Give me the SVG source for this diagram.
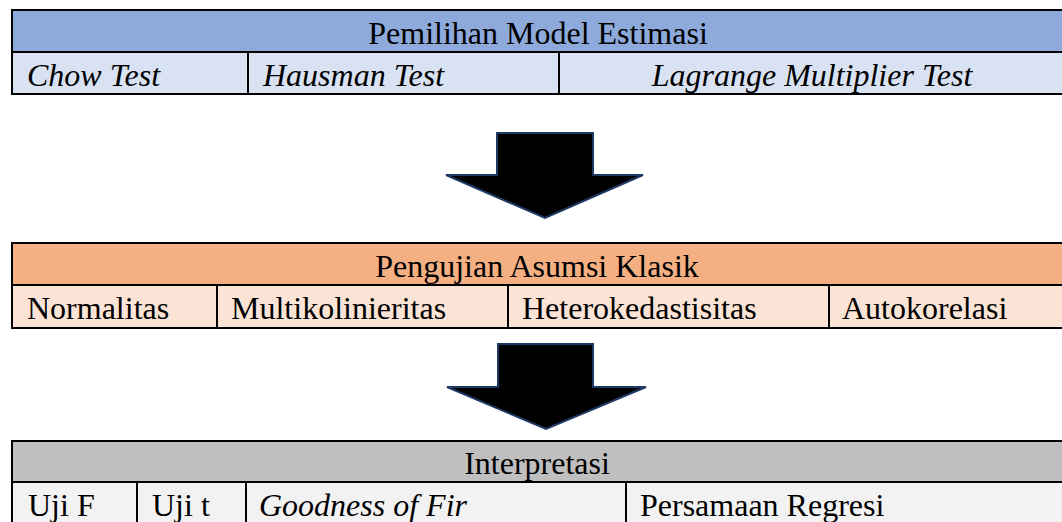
<svg xmlns="http://www.w3.org/2000/svg" width="1062" height="522" viewBox="0 0 1062 522">
<style>
text{font-family:"Liberation Serif","Times New Roman",serif;font-size:32px;fill:#000}
.c{text-anchor:middle}
.i{font-style:italic}
.ln{stroke:#000;stroke-width:2;fill:none}
.arrow{fill:#000;stroke:#1F3864;stroke-width:2;stroke-linejoin:miter}
</style>
<rect width="1062" height="522" fill="#fff"/>
<g id="pemilihan">
<rect x="12" y="10" width="1052" height="42" fill="#8EAADB"/>
<rect x="12" y="52" width="1052" height="42" fill="#D9E2F3"/>
<path class="ln" d="M1064 10H12V94H1064M12 52H1064M248 52V94M559 52V94"/>
<text class="c" x="538" y="44">Pemilihan Model Estimasi</text>
<text class="i" x="27" y="86">Chow Test</text>
<text class="i" x="263" y="86">Hausman Test</text>
<text class="i c" x="812" y="86">Lagrange Multiplier Test</text>
</g>
<g id="asumsi">
<rect x="12" y="243" width="1052" height="42" fill="#F4B083"/>
<rect x="12" y="285" width="1052" height="43" fill="#FBE4D5"/>
<path class="ln" d="M1064 243H12V328H1064M12 285H1064M217 285V328M508 285V328M829 285V328"/>
<text class="c" x="537" y="277">Pengujian Asumsi Klasik</text>
<text x="27" y="319">Normalitas</text>
<text x="231" y="319">Multikolinieritas</text>
<text x="522" y="319">Heterokedastisitas</text>
<text x="842" y="319">Autokorelasi</text>
</g>
<g id="interpretasi">
<rect x="12" y="441" width="1052" height="41" fill="#BFBFBF"/>
<rect x="12" y="482" width="1052" height="42" fill="#F2F2F2"/>
<path class="ln" d="M1064 441H12V524M12 482H1064M137 482V524M246 482V524M626 482V524"/>
<text class="c" x="537" y="474">Interpretasi</text>
<text x="28" y="516">Uji F</text>
<text x="152" y="516">Uji t</text>
<text class="i" x="259" y="516">Goodness of Fir</text>
<text x="640" y="516">Persamaan Regresi</text>
</g>
<g id="connectors">
<path class="arrow" d="M497 133H593V175H643L545 218L446 175H497Z"/>
<path class="arrow" d="M498 344H593V387H646L546 429L447 387H498Z"/>
</g>
</svg>
